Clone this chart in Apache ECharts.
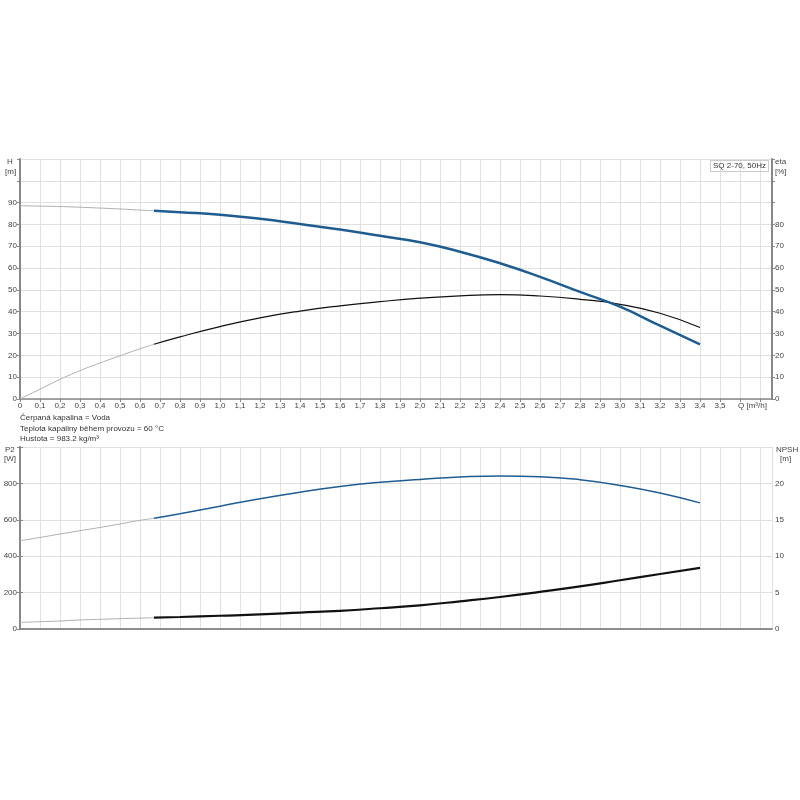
<!DOCTYPE html>
<html><head><meta charset="utf-8">
<script src="https://cdn.jsdelivr.net/npm/echarts@6/dist/echarts.min.js"></script>
<style>html,body{margin:0;padding:0;background:#fff}#c{width:800px;height:800px}</style>
</head><body><div id="c"></div>
<script>
// ---- data ----
const qThin = [0, 0.1, 0.2, 0.3, 0.4, 0.5, 0.6, 0.67];
const hThin = [88.6, 88.4, 88.2, 87.9, 87.5, 87.1, 86.6, 86.3];
const etaThin = [0, 4.5, 9, 13, 16.5, 19.8, 23, 25.1];
const p2Thin = [485, 503, 522, 540, 558, 577, 597, 608];
const npshThin = [0.9, 1.0, 1.1, 1.24, 1.33, 1.42, 1.5, 1.55];

const qMain = [0.67, 0.8, 1.0, 1.2, 1.4, 1.6, 1.8, 2.0, 2.2, 2.4, 2.6, 2.8, 3.0, 3.2, 3.4];
const hMain = [86.3, 85.6, 84.5, 82.6, 80.2, 77.7, 74.8, 71.8, 67.5, 62.2, 56.0, 49.1, 42.3, 33.6, 25.0];
const etaMain = [25.1, 28.5, 33.2, 37.2, 40.3, 42.7, 44.6, 46.2, 47.3, 47.8, 47.2, 45.7, 43.4, 39.3, 32.8];
const p2Main = [608, 633, 675, 716, 752, 783, 806, 822, 835, 841, 837, 820, 789, 747, 693];
const npshMain = [1.55, 1.65, 1.82, 2.0, 2.25, 2.5, 2.85, 3.25, 3.8, 4.4, 5.1, 5.85, 6.7, 7.55, 8.4];

const pumpName = 'SQ 2-70, 50Hz';
const notes = ['Čerpaná kapalina = Voda', 'Teplota kapaliny během provozu = 60 °C', 'Hustota = 983.2 kg/m³'];

// ---- helpers ----
const zip = (xs, ys) => xs.map((x, i) => [x, ys[i]]);
const FONT = 'Arial, "Liberation Sans", sans-serif';
const BLUE = '#1f5d91';
const GRID_C = '#e0e0e0';
const AX_C = '#888';
const LBL = { fontSize: 8, color: '#444', fontFamily: FONT };

function xAx(gridIndex, showLabel) {
  return {
    type: 'value', gridIndex, min: 0, max: 3.76, interval: 0.1,
    axisLine: { show: true, lineStyle: { color: AX_C, width: 1.5 } },
    axisTick: { show: showLabel, length: 3, lineStyle: { color: AX_C } },
    axisLabel: {
      show: showLabel, ...LBL, margin: 3, showMaxLabel: false,
      formatter: v => (v > 3.55 ? '' : (v === 0 ? '0' : v.toFixed(1).replace('.', ',')))
    },
    splitLine: { show: true, lineStyle: { color: GRID_C, width: 1 } }
  };
}
function yAx(gridIndex, pos, max, interval, labelMax, split) {
  return {
    type: 'value', gridIndex, position: pos, min: 0, max, interval,
    axisLine: { show: true, lineStyle: { color: AX_C, width: 2 } },
    axisTick: { show: true, length: 3, lineStyle: { color: AX_C } },
    axisLabel: { ...LBL, margin: 3, formatter: v => (v > labelMax ? '' : String(v)) },
    splitLine: { show: split, lineStyle: { color: GRID_C, width: 1 } }
  };
}
function line(name, x, y, xi, yi, color, width, z) {
  return {
    name, type: 'line', xAxisIndex: xi, yAxisIndex: yi, data: zip(x, y),
    smooth: true, showSymbol: false, symbol: 'none', z: z || 3,
    lineStyle: { color, width }, silent: true
  };
}

const chart = echarts.init(document.getElementById('c'), null, { renderer: 'canvas' });
chart.setOption({
  animation: false,
  backgroundColor: '#fff',
  title: {
    text: pumpName, left: 710, top: 160,
    borderColor: '#ccc', borderWidth: 1, padding: [2, 3],
    textStyle: { fontSize: 8, fontWeight: 'normal', color: '#333', fontFamily: FONT }
  },
  grid: [
    { left: 20, right: 28, top: 159, height: 240 },
    { left: 20, right: 28, top: 447, height: 182 }
  ],
  xAxis: [
    xAx(0, true),
    xAx(1, false),
    { type: 'value', gridIndex: 1, position: 'top', min: 0, max: 3.76,
      axisLine: { show: true, lineStyle: { color: AX_C, width: 1.5 } },
      axisTick: { show: false }, axisLabel: { show: false }, splitLine: { show: false } }
  ],
  yAxis: [
    yAx(0, 'left', 110, 10, 90, true),
    yAx(0, 'right', 110, 10, 80, false),
    yAx(1, 'left', 1000, 200, 800, true),
    yAx(1, 'right', 25, 5, 20, false)
  ],
  series: [
    line('H thin', qThin, hThin, 0, 0, '#b0b0b0', 1),
    line('eta thin', qThin, etaThin, 0, 1, '#b0b0b0', 1),
    line('H', qMain, hMain, 0, 0, BLUE, 2.5, 5),
    line('eta', qMain, etaMain, 0, 1, '#111', 1.2, 4),
    line('P2 thin', qThin, p2Thin, 1, 2, '#b0b0b0', 1),
    line('NPSH thin', qThin, npshThin, 1, 3, '#b0b0b0', 1),
    line('P2', qMain, p2Main, 1, 2, BLUE, 1.5, 4),
    line('NPSH', qMain, npshMain, 1, 3, '#111', 2.2, 5)
  ],
  graphic: [
    { type: 'text', left: 7, top: 158, style: { text: 'H', font: '8px ' + FONT, fill: '#444' } },
    { type: 'text', left: 5, top: 168, style: { text: '[m]', font: '8px ' + FONT, fill: '#444' } },
    { type: 'text', left: 775, top: 158, style: { text: 'eta', font: '8px ' + FONT, fill: '#444' } },
    { type: 'text', left: 775, top: 168, style: { text: '[%]', font: '8px ' + FONT, fill: '#444' } },
    { type: 'text', left: 5, top: 446, style: { text: 'P2', font: '8px ' + FONT, fill: '#444' } },
    { type: 'text', left: 4, top: 455, style: { text: '[W]', font: '8px ' + FONT, fill: '#444' } },
    { type: 'text', left: 776, top: 446, style: { text: 'NPSH', font: '8px ' + FONT, fill: '#444' } },
    { type: 'text', left: 780, top: 455, style: { text: '[m]', font: '8px ' + FONT, fill: '#444' } },
    { type: 'text', left: 738, top: 402, style: { text: 'Q [m³/h]', font: '8px ' + FONT, fill: '#444' } },
    { type: 'text', left: 20, top: 413, style: { text: notes.join('\n'), font: '8px ' + FONT, fill: '#333', lineHeight: 10.5 } }
  ]
});
</script></body></html>
